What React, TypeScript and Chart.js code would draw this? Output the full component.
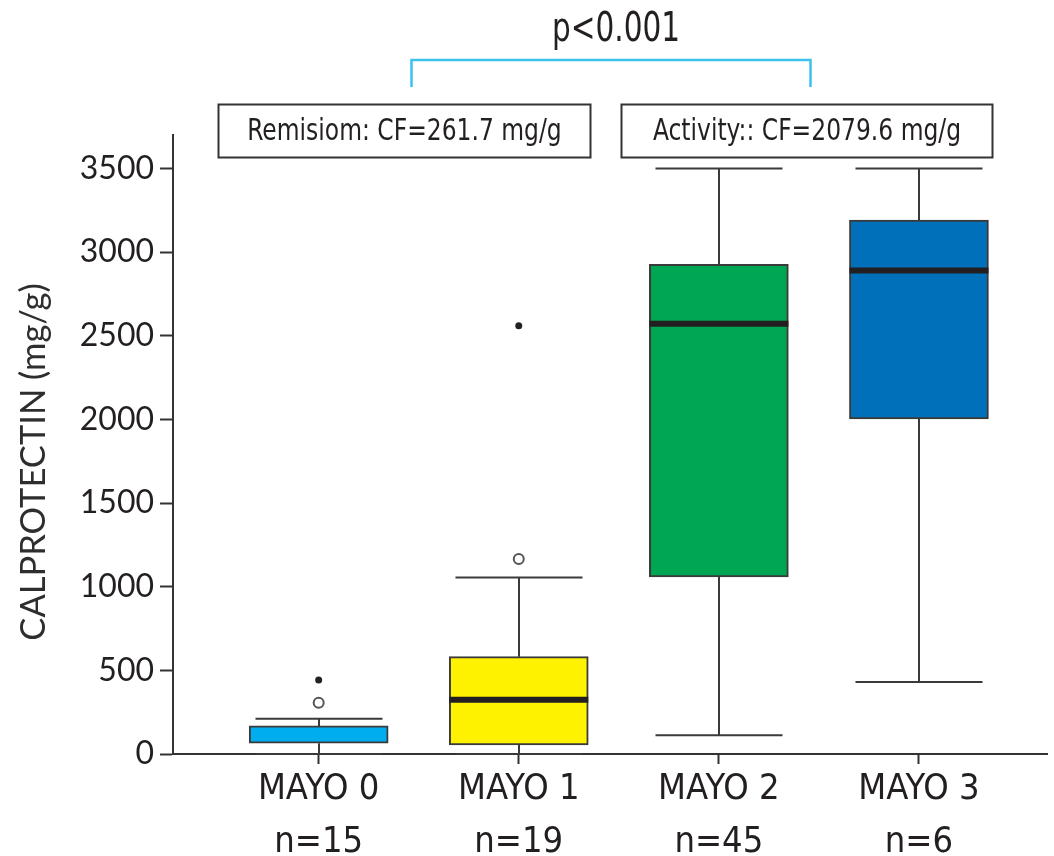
import React, { useEffect, useRef } from "react";
import { Chart, registerables } from "chart.js";

Chart.register(...registerables);

// ---- data ----
const categories = ["MAYO 0", "MAYO 1", "MAYO 2", "MAYO 3"];
const sampleSizes = ["n=15", "n=19", "n=45", "n=6"];
const whiskerLow = [0, 0, 112, 430];
const q1 = [65, 55, 1058, 2003];
const medians: (number | null)[] = [null, 325, 2572, 2890];
const q3 = [168, 582, 2927, 3191];
const whiskerHigh = [210, 1055, 3500, 3500];
const boxColors = ["#00AEEF", "#FFF200", "#00A651", "#0070BA"];
const openOutlierCat = [0, 1];
const openOutlierVal = [306, 1166];
const filledOutlierCat = [0, 1];
const filledOutlierVal = [443, 2560];
const yTicks = [0, 500, 1000, 1500, 2000, 2500, 3000, 3500];
const yTitle = "CALPROTECTIN (mg/g)";
const pValueText = "p<0.001";
const groupLabels = ["Remisiom: CF=261.7 mg/g", "Activity:: CF=2079.6 mg/g"];
// group frames in x-scale units [from, to]
const groupFrom = [-0.505, 1.51];
const groupTo = [1.355, 3.365];
const bracketFrom = 0.46;
const bracketTo = 2.455;

const NARROW = '"Liberation Sans Narrow", "Arial Narrow", "DejaVu Sans Condensed", sans-serif';
const REG = 'Lato, "Open Sans", sans-serif';
const INK = "#231f20";
const LINE = "#3a3a3a";
const BOX_W = 139;
const CAP_W = 127;

function squeezedText(ctx: any, text: string, cx: number, cy: number, sx: number) {
  ctx.save();
  ctx.translate(cx, cy);
  ctx.scale(sx, 1);
  ctx.fillText(text, 0, 0);
  ctx.restore();
}

const boxPlugin = {
  id: "boxParts",
  beforeDatasetsDraw(chart: any) {
    const { ctx, scales } = chart;
    const x = scales.x, y = scales.y;
    ctx.save();
    ctx.strokeStyle = LINE;
    ctx.lineWidth = 2;
    for (let i = 0; i < categories.length; i++) {
      const cx = Math.round(x.getPixelForValue(i));
      const yl = y.getPixelForValue(whiskerLow[i]);
      const yq1 = y.getPixelForValue(q1[i]);
      const yq3 = y.getPixelForValue(q3[i]);
      const yh = y.getPixelForValue(whiskerHigh[i]);
      ctx.beginPath();
      ctx.moveTo(cx, yl);
      ctx.lineTo(cx, yq1);
      ctx.moveTo(cx, yq3);
      ctx.lineTo(cx, yh);
      ctx.moveTo(cx - CAP_W / 2, yh);
      ctx.lineTo(cx + CAP_W / 2, yh);
      ctx.moveTo(cx - CAP_W / 2, yl);
      ctx.lineTo(cx + CAP_W / 2, yl);
      ctx.stroke();
    }
    ctx.restore();
  },
  afterDatasetsDraw(chart: any) {
    const { ctx, scales } = chart;
    const x = scales.x, y = scales.y;
    ctx.save();
    ctx.strokeStyle = INK;
    ctx.lineWidth = 6;
    for (let i = 0; i < categories.length; i++) {
      const m = medians[i];
      if (m === null) continue;
      const cx = x.getPixelForValue(i);
      const ym = y.getPixelForValue(m);
      ctx.beginPath();
      ctx.moveTo(cx - BOX_W / 2, ym);
      ctx.lineTo(cx + BOX_W / 2, ym);
      ctx.stroke();
    }
    ctx.restore();
  },
  afterDraw(chart: any) {
    const { ctx, scales } = chart;
    const x = scales.x;
    ctx.save();
    // y title
    ctx.fillStyle = "#2e2e2e";
    ctx.font = `34.5px ${REG}`;
    ctx.textAlign = "center";
    ctx.textBaseline = "middle";
    ctx.translate(34, 462);
    ctx.rotate(-Math.PI / 2);
    ctx.fillText(yTitle, 0, 0);
    ctx.restore();

    ctx.save();
    // p-value
    ctx.fillStyle = INK;
    ctx.font = `40px ${NARROW}`;
    ctx.textAlign = "center";
    ctx.textBaseline = "middle";
    const bx0 = Math.round(x.getPixelForValue(bracketFrom)) + 0.5;
    const bx1 = Math.round(x.getPixelForValue(bracketTo)) + 0.5;
    squeezedText(ctx, pValueText, (bx0 + bx1) / 2 + 5, 31, 0.82);
    // bracket
    ctx.strokeStyle = "#3cc1ee";
    ctx.lineWidth = 2.5;
    ctx.beginPath();
    ctx.moveTo(bx0, 87);
    ctx.lineTo(bx0, 60);
    ctx.lineTo(bx1, 60);
    ctx.lineTo(bx1, 87);
    ctx.stroke();
    // group frames
    ctx.strokeStyle = "#333";
    ctx.lineWidth = 2;
    ctx.font = `31px ${NARROW}`;
    for (let g = 0; g < groupLabels.length; g++) {
      const l = Math.round(x.getPixelForValue(groupFrom[g])) + 0.5;
      const r = Math.round(x.getPixelForValue(groupTo[g])) + 0.5;
      ctx.strokeRect(l, 104.5, r - l, 53);
      squeezedText(ctx, groupLabels[g], (l + r) / 2, 132, 0.84);
    }
    ctx.restore();
  },
};

export default function App() {
  const ref = useRef<HTMLCanvasElement | null>(null);
  useEffect(() => {
    if (!ref.current) return;
    const chart = new Chart(ref.current, {
      type: "bar",
      data: {
        datasets: [
          {
            type: "bar",
            data: categories.map((_, i) => ({ x: i, y: [q1[i], q3[i]] })) as any,
            backgroundColor: boxColors,
            borderColor: LINE,
            borderWidth: 2,
            borderSkipped: false,
            barThickness: BOX_W,
            order: 2,
          } as any,
          {
            type: "scatter",
            data: openOutlierCat.map((c, i) => ({ x: c, y: openOutlierVal[i] })),
            pointRadius: 5,
            pointBackgroundColor: "#ffffff",
            pointBorderColor: "#555",
            pointBorderWidth: 2,
            order: 1,
          } as any,
          {
            type: "scatter",
            data: filledOutlierCat.map((c, i) => ({ x: c, y: filledOutlierVal[i] })),
            pointRadius: 3.5,
            pointBackgroundColor: "#222",
            pointBorderColor: "#222",
            pointBorderWidth: 0,
            order: 1,
          } as any,
        ],
      },
      options: {
        responsive: false,
        animation: false,
        layout: { padding: { top: 135, left: 0, right: 0, bottom: 0 } },
        plugins: { legend: { display: false }, tooltip: { enabled: false } },
        scales: {
          x: {
            type: "linear",
            min: -0.728,
            max: 3.64,
            offset: false,
            afterBuildTicks: (s: any) => {
              s.ticks = categories.map((_, i) => ({ value: i }));
            },
            afterFit: (s: any) => {
              s.height = 102;
            },
            border: { display: true, color: "#333", width: 2 },
            grid: {
              offset: false,
              drawOnChartArea: false,
              drawTicks: true,
              tickLength: 10,
              tickColor: "#333",
              tickWidth: 2,
            },
            ticks: {
              padding: 0,
              color: INK,
              font: { family: NARROW, size: 36, lineHeight: 1.45 },
              callback: (v: any) => [categories[v], sampleSizes[v]],
              maxRotation: 0,
              autoSkip: false,
            },
          },
          y: {
            type: "linear",
            min: 0,
            max: 3700,
            afterBuildTicks: (s: any) => {
              s.ticks = yTicks.map((v) => ({ value: v }));
            },
            afterFit: (s: any) => {
              s.width = 173;
            },
            border: { display: true, color: "#333", width: 2 },
            grid: {
              drawOnChartArea: false,
              drawTicks: true,
              tickLength: 13,
              tickColor: "#333",
              tickWidth: 2,
            },
            ticks: {
              padding: 6,
              color: INK,
              font: { family: REG, size: 32 },
              callback: (v: any) => String(v),
            },
          },
        },
      },
      plugins: [boxPlugin],
    } as any);
    return () => chart.destroy();
  }, []);
  return (
    <div style={{ position: "absolute", left: 0, top: 0, width: 1054, height: 856, background: "#fff" }}>
      <canvas ref={ref} width={1054} height={856} />
    </div>
  );
}
